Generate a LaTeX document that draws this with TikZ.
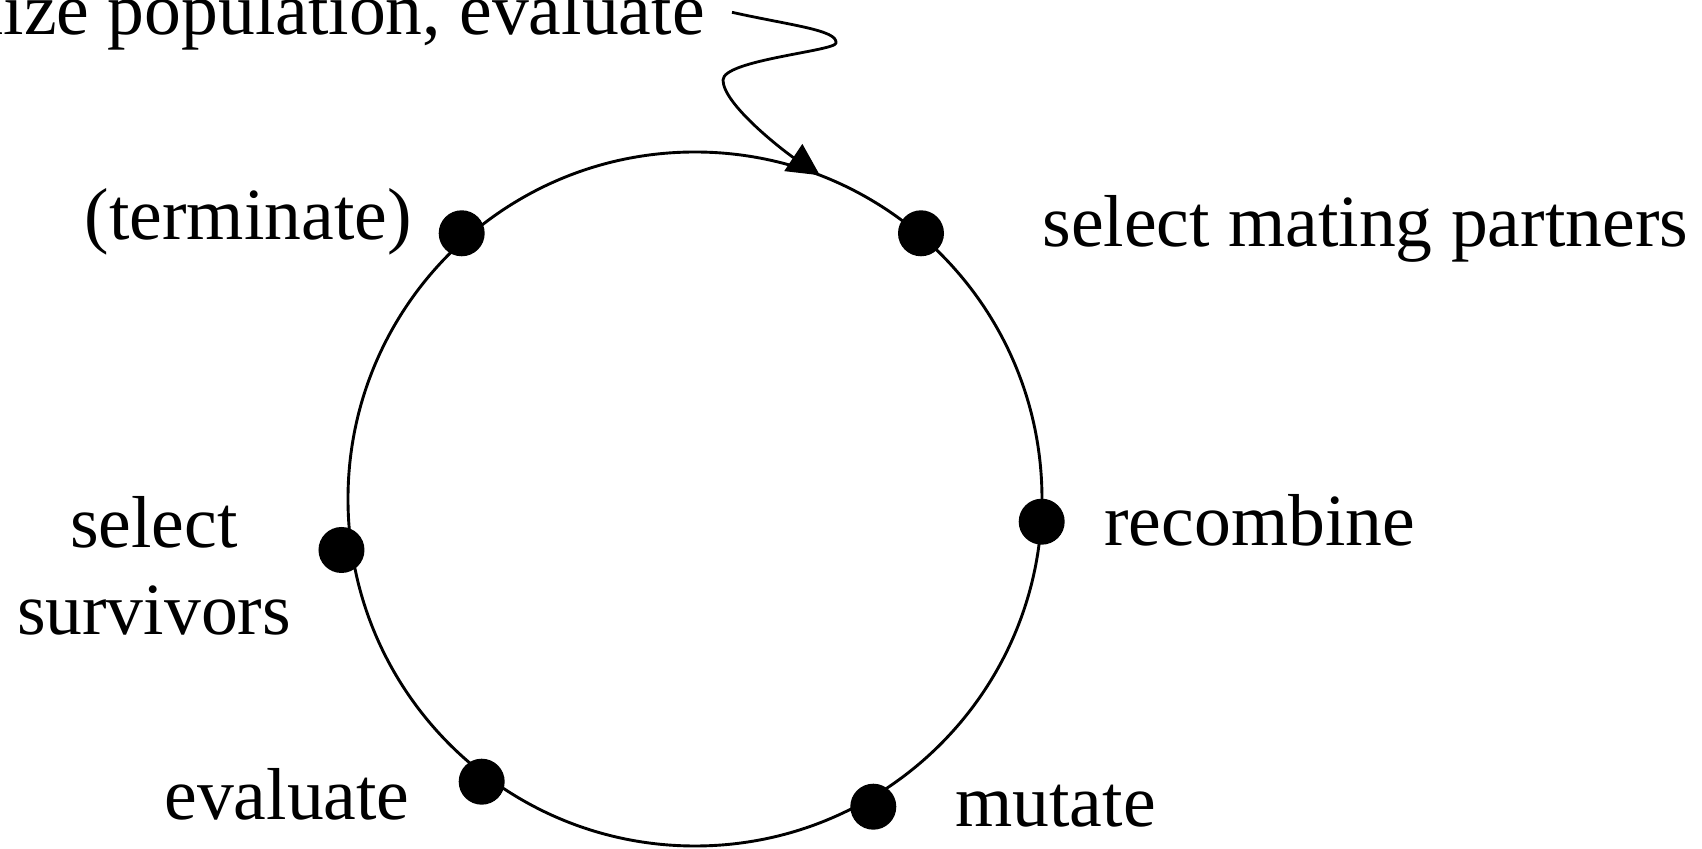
\documentclass[tikz,border=0pt]{standalone}
\usepackage{fontspec}
\setmainfont{Liberation Serif}
\usetikzlibrary{arrows.meta}
\begin{document}
\begin{tikzpicture}[x=0.5pt,y=0.5pt,
  lbl/.style={inner sep=0pt, font=\fontsize{36.8}{43.5}\selectfont},
  dot/.style={circle, fill=black, inner sep=0pt, minimum size=23pt},
  ring/.style={line width=1.45pt},
  conn/.style={line width=1.4pt, -{Triangle[length=16pt,width=16pt]}}]
\clip (-695,-350) rectangle (1007,499);
\coordinate (c) at (0,0);
\draw[ring] (c) circle[radius=347];
% dots
\node[dot] (dterm) at (-233.3,265.7) {};
\node[dot] (dmate) at (226,265.7) {};
\node[dot] (drec)  at (346.7,-22.7) {};
\node[dot] (dmut)  at (178.3,-307.7) {};
\node[dot] (deval) at (-213.3,-282.7) {};
\node[dot] (dsurv) at (-353.5,-51) {};
% labels
\node[lbl, anchor=base east] (lterm) at (-283,259) {(terminate)};
\node[lbl, anchor=base west] (lmate) at (347,252) {select mating partners};
\node[lbl, anchor=base west] (lrec)  at (409,-47) {recombine};
\node[lbl, anchor=base west] (lmut)  at (260,-328) {mutate};
\node[lbl, anchor=base east] (leval) at (-285,-321) {evaluate};
\node[lbl, align=center, anchor=base] (lsurv) at (-541,-136) {select\\survivors};
\node[lbl, anchor=base east] (init) at (10,464) {initialize population, evaluate};
% connector
\coordinate (bend1) at (141,456);
\coordinate (bend2) at (28,419);
\coordinate (entry) at (68.9:347);
\draw[conn] ([shift={(27,5)}]init.east) .. controls +(58,-13) and +(2,13) .. (bend1)
  .. controls +(0,-8) and +(0,20) .. (bend2)
  .. controls +(0,-25) and +(-33,22) .. (entry);
\end{tikzpicture}
\end{document}
